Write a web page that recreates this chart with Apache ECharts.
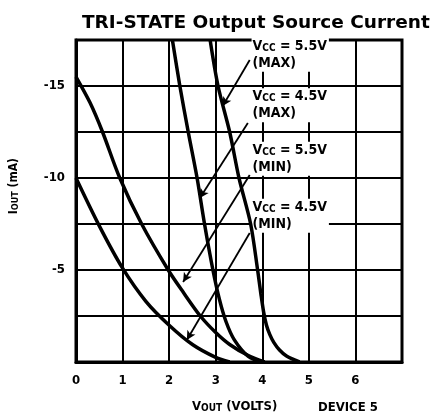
<!DOCTYPE html>
<html>
<head>
<meta charset="utf-8">
<style>html,body{margin:0;padding:0;background:#fff}#c{width:431px;height:418px}</style>
<script src="https://cdn.jsdelivr.net/npm/echarts@6/dist/echarts.min.js"></script>
</head>
<body>
<div id="c"></div>
<script>
// ---- data (VOUT in volts, IOUT in mA) ----
const xTickLabels = ['0','1','2','3','4','5','6'];
const yTickLabels = [-15, -10, -5];

const v45minV = [0, 0.5, 1.0, 1.5, 2.0, 2.5, 3.0, 3.3];
const v45minI = [-10, -7.4, -5.1, -3.3, -2.0, -0.95, -0.25, 0];

const v55minV = [0, 0.3, 0.57, 0.94, 1.41, 1.98, 2.3, 2.67, 3.0, 3.3, 3.7, 4.05];
const v55minI = [-15.5, -14.1, -12.5, -10, -7.5, -5, -3.8, -2.5, -1.6, -0.95, -0.35, 0];

const v45maxV = [2.07, 2.23, 2.41, 2.6, 2.76, 2.94, 3.08, 3.22, 3.4, 3.7, 4.0];
const v45maxI = [-17.5, -15, -12.5, -10, -7.5, -5, -3.4, -2.2, -1.2, -0.3, 0];

const v55maxV = [2.88, 3.05, 3.3, 3.5, 3.75, 3.9, 3.97, 4.03, 4.09, 4.16, 4.25, 4.37, 4.52, 4.8];
const v55maxI = [-17.5, -15, -12.5, -10, -7.5, -5, -3.7, -2.7, -2.0, -1.5, -1.05, -0.65, -0.32, 0];

// annotation labels: anchor (data units) and text
const labelNames = ['5.5V', '4.5V', '5.5V', '4.5V'];
const labelKinds = ['(MAX)', '(MAX)', '(MIN)', '(MIN)'];
const labelX = [3.77, 3.77, 3.77, 3.77];
const labelY = [-16.7, -13.95, -11.05, -7.95];

// arrows: start/end in data units
const arrowX1 = [3.73, 3.69, 3.73, 3.73];
const arrowY1 = [-16.41, -12.99, -10.16, -7.01];
const arrowX2 = [3.15, 2.66, 2.30, 2.38];
const arrowY2 = [-13.91, -8.91, -4.35, -1.20];

const zip = (a, b) => a.map((v, i) => [v, b[i]]);
const FONT = '"DejaVu Sans Condensed", "Liberation Sans", Arial, sans-serif';

const curveStyle = { color: '#000', width: 3.5 };
function curve(name, xs, ys) {
  return {
    name, type: 'line', data: zip(xs, ys), showSymbol: false, symbol: 'none',
    smooth: 0.3, lineStyle: curveStyle, silent: true, z: 5
  };
}

const chart = echarts.init(document.getElementById('c'), null, { renderer: 'canvas' });

const option = {
  backgroundColor: '#fff',
  animation: false,
  title: {
    text: 'TRI-STATE Output Source Current',
    left: 77, top: 9,
    textStyle: { fontFamily: '"DejaVu Sans", Arial, sans-serif', fontWeight: 'bold', fontSize: 18.5, color: '#000' }
  },
  grid: { left: 76, right: 29, top: 40, bottom: 56, show: true, borderColor: '#000', borderWidth: 3, backgroundColor: 'transparent' },
  xAxis: {
    type: 'value', min: 0, max: 7, interval: 1,
    axisLine: { show: true, lineStyle: { color: '#000', width: 3 } },
    axisTick: { show: false },
    splitLine: { show: true, lineStyle: { color: '#000', width: 2 } },
    axisLabel: {
      margin: 12, color: '#000', fontFamily: FONT, fontWeight: 'bold', fontSize: 13,
      formatter: v => (xTickLabels[v] !== undefined ? xTickLabels[v] : '')
    }
  },
  yAxis: {
    type: 'value', min: -17.5, max: 0, interval: 2.5, inverse: true,
    axisLine: { show: true, lineStyle: { color: '#000', width: 3 } },
    axisTick: { show: false },
    splitLine: { show: true, lineStyle: { color: '#000', width: 2 } },
    axisLabel: {
      margin: 11, color: '#000', fontFamily: FONT, fontWeight: 'bold', fontSize: 13,
      formatter: v => (yTickLabels.indexOf(v) >= 0 ? '-' + Math.abs(v) : '')
    }
  },
  graphic: [
    {
      type: 'text', left: 8, top: 158, rotation: Math.PI / 2,
      style: {
        text: '{b|I}{s|OUT}{b| (mA)}',
        rich: {
          b: { fontFamily: FONT, fontWeight: 'bold', fontSize: 12, fill: '#000' },
          s: { fontFamily: FONT, fontWeight: 'bold', fontSize: 9, fill: '#000', padding: [3, 0, 0, 0] }
        }
      }
    },
    {
      type: 'text', left: 192, top: 400,
      style: {
        text: '{b|V}{s|OUT}{b| (VOLTS)}',
        rich: {
          b: { fontFamily: FONT, fontWeight: 'bold', fontSize: 13, fill: '#000' },
          s: { fontFamily: FONT, fontWeight: 'bold', fontSize: 10, fill: '#000', padding: [3, 0, 0, 0] }
        }
      }
    },
    {
      type: 'text', left: 318, top: 401,
      style: { text: 'DEVICE 5', fontFamily: FONT, fontWeight: 'bold', fontSize: 13, fill: '#000' }
    }
  ],
  series: [
    curve('VCC = 4.5V (MIN)', v45minV, v45minI),
    curve('VCC = 5.5V (MIN)', v55minV, v55minI),
    curve('VCC = 4.5V (MAX)', v45maxV, v45maxI),
    curve('VCC = 5.5V (MAX)', v55maxV, v55maxI),
    {
      name: 'annotations', type: 'line', data: [], silent: true, z: 6,
      markLine: {
        silent: true, animation: false,
        symbol: ['none', 'arrow'], symbolSize: [7, 9],
        label: { show: false },
        lineStyle: { color: '#000', width: 1.8, type: 'solid' },
        data: arrowX1.map((x, i) => [
          { coord: [x, arrowY1[i]] },
          { coord: [arrowX2[i], arrowY2[i]] }
        ])
      },
      markPoint: {
        silent: true, animation: false,
        symbol: 'circle', symbolSize: 0,
        data: labelX.map((x, i) => ({
          coord: [x, labelY[i]],
          label: {
            show: true, position: 'right', distance: 0, align: 'left',
            backgroundColor: '#fff', padding: [0, 2, 0, 1],
            formatter: '{v|V}{s|CC}{t| = ' + labelNames[i] + '}\n{t|' + labelKinds[i] + '}',
            rich: {
              v: { fontFamily: FONT, fontWeight: 'bold', fontSize: 14, color: '#000', lineHeight: 17 },
              s: { fontFamily: FONT, fontWeight: 'bold', fontSize: 10, color: '#000', lineHeight: 17, padding: [4, 0, 0, 0] },
              t: { fontFamily: FONT, fontWeight: 'bold', fontSize: 14, color: '#000', lineHeight: 17 }
            }
          }
        }))
      }
    }
  ]
};
chart.setOption(option);
</script>
</body>
</html>
